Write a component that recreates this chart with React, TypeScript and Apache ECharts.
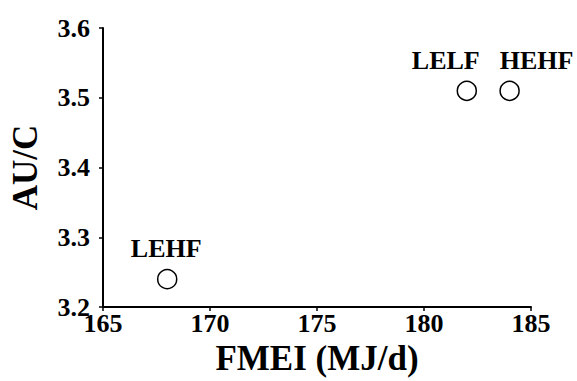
import React, { useEffect, useRef } from "react";
import * as echarts from "echarts";

const groups = ["LEHF", "LELF", "HEHF"];
const fmei = [168, 182, 184];
const auc = [3.24, 3.51, 3.51];
const xTicks = [165, 170, 175, 180, 185];
const yTicks = [3.2, 3.3, 3.4, 3.5, 3.6];

const FONT = "'Liberation Serif', 'Times New Roman', serif";
const LABEL_SHIFT: Record<string, number> = { LEHF: -1, LELF: -21, HEHF: 27 };

export default function App() {
  const ref = useRef<HTMLDivElement>(null);
  useEffect(() => {
    if (!ref.current) return;
    const chart = echarts.init(ref.current, null, { renderer: "svg" });
    const data = groups.map((g, i) => ({ name: g, value: [fmei[i], auc[i]] }));
    chart.setOption({
      animation: false,
      backgroundColor: "#ffffff",
      grid: { left: 100, right: 46, top: 28, bottom: 66, containLabel: false },
      xAxis: {
        type: "value",
        min: xTicks[0],
        max: xTicks[xTicks.length - 1],
        interval: 5,
        name: "FMEI (MJ/d)",
        nameLocation: "middle",
        nameGap: 30,
        nameTextStyle: { fontFamily: FONT, fontSize: 35, fontWeight: "bold", color: "#000" },
        axisLine: { lineStyle: { color: "#000", width: 2 } },
        axisTick: { show: true, length: 4, lineStyle: { color: "#000", width: 1.5 } },
        axisLabel: { fontFamily: FONT, fontSize: 26, fontWeight: "bold", color: "#000", margin: 3 },
        splitLine: { show: false },
      },
      yAxis: {
        type: "value",
        min: yTicks[0],
        max: yTicks[yTicks.length - 1],
        interval: 0.1,
        name: "AU/C",
        nameLocation: "middle",
        nameGap: 60,
        nameTextStyle: { fontFamily: FONT, fontSize: 35, fontWeight: "bold", color: "#000" },
        axisLine: { show: true, lineStyle: { color: "#000", width: 2 } },
        axisTick: { show: true, length: 4, lineStyle: { color: "#000", width: 1.5 } },
        axisLabel: {
          fontFamily: FONT,
          fontSize: 26,
          fontWeight: "bold",
          color: "#000",
          margin: 13,
          formatter: (v: number) => v.toFixed(1),
        },
        splitLine: { show: false },
      },
      series: [
        {
          type: "scatter",
          data,
          symbol: "circle",
          symbolSize: 19,
          itemStyle: { color: "#fff", borderColor: "#000", borderWidth: 1.5, opacity: 1 },
          label: {
            show: true,
            position: "top",
            distance: 7,
            formatter: (p: any) => p.name,
            fontFamily: FONT,
            fontSize: 26,
            fontWeight: "bold",
            color: "#000",
            textBorderWidth: 0,
          },
          labelLayout: (p: any) => ({
            dx: LABEL_SHIFT[groups[p.dataIndex]] || 0,
            hideOverlap: false,
          }),
        },
      ],
    });
    return () => chart.dispose();
  }, []);
  return <div ref={ref} style={{ width: 577, height: 381, position: "absolute", left: 0, top: 0 }} />;
}
